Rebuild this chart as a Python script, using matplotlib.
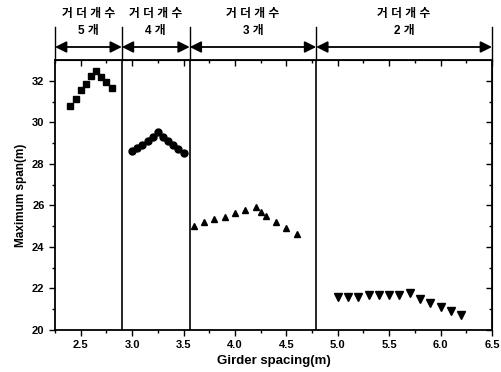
import matplotlib.pyplot as plt
import matplotlib.transforms as mtransforms

  # data
x5 = [2.40, 2.45, 2.50, 2.55, 2.60, 2.65, 2.70, 2.75, 2.80]
y5 = [30.8, 31.1, 31.55, 31.85, 32.25, 32.45, 32.2, 31.95, 31.65]

x4 = [3.00, 3.05, 3.10, 3.15, 3.20, 3.25, 3.30, 3.35, 3.40, 3.45, 3.50]
y4 = [28.6, 28.75, 28.9, 29.1, 29.3, 29.55, 29.3, 29.1, 28.9, 28.7, 28.5]

x3 = [3.60, 3.70, 3.80, 3.90, 4.00, 4.10, 4.20, 4.25, 4.30, 4.40, 4.50, 4.60]
y3 = [25.0, 25.2, 25.35, 25.45, 25.65, 25.8, 25.9, 25.7, 25.5, 25.2, 24.9, 24.6]

x2 = [5.0, 5.1, 5.2, 5.3, 5.4, 5.5, 5.6, 5.7, 5.8, 5.9, 6.0, 6.1, 6.2]
y2 = [21.6, 21.6, 21.6, 21.7, 21.7, 21.7, 21.7, 21.8, 21.5, 21.3, 21.1, 20.9, 20.7]

  # girder count regions
bounds = [2.25, 2.9, 3.56, 4.79, 6.5]
counts = ['5 개', '4 개', '3 개', '2 개']
header = '거 더 개 수'

plt.rcParams['font.family'] = ['Liberation Sans', 'Noto Sans CJK KR']

fig = plt.figure(figsize=(5.02, 3.72), dpi=100)
ax = fig.add_axes([0.1096, 0.1129, 0.8705, 0.7258])

ax.plot(x5, y5, 's', color='black', ms=5, ls='none')
ax.plot(x4, y4, 'o', color='black', ms=5, ls='none')
ax.plot(x3, y3, '^', color='black', ms=5, ls='none')
ax.plot(x2, y2, 'v', color='black', ms=6, ls='none')

  # region separators
for b in bounds[1:-1]:
    ax.axvline(b, color='black', lw=1.2)

ax.set_xlim(2.25, 6.5)
ax.set_ylim(20, 33)
ax.set_xticks([2.5, 3.0, 3.5, 4.0, 4.5, 5.0, 5.5, 6.0, 6.5])
ax.set_xticks([2.25, 2.75, 3.25, 3.75, 4.25, 4.75, 5.25, 5.75, 6.25], minor=True)
ax.set_yticks([20, 22, 24, 26, 28, 30, 32])
ax.set_yticks([21, 23, 25, 27, 29, 31], minor=True)

ax.tick_params(axis='both', which='major', labelsize=8, width=1, length=4)
ax.tick_params(axis='both', which='minor', width=1, length=2)
ax.tick_params(axis='x', which='both', direction='out')
ax.tick_params(axis='y', which='both', direction='out')
  # top and right ticks point inward
ax2 = ax.secondary_xaxis('top')
ax2.set_xticks(ax.get_xticks())
ax2.set_xticks([2.25, 2.75, 3.25, 3.75, 4.25, 4.75, 5.25, 5.75, 6.25], minor=True)
ax2.tick_params(which='both', direction='in', labeltop=False, width=1)
ax2.tick_params(which='major', length=4)
ax2.tick_params(which='minor', length=2)
ax3 = ax.secondary_yaxis('right')
ax3.set_yticks([20, 22, 24, 26, 28, 30, 32])
ax3.set_yticks([21, 23, 25, 27, 29, 31], minor=True)
ax3.tick_params(which='both', direction='in', labelright=False, width=1)
ax3.tick_params(which='major', length=4)
ax3.tick_params(which='minor', length=2)

for lbl in ax.get_xticklabels() + ax.get_yticklabels():
    lbl.set_fontweight('bold')
for sp in ax.spines.values():
    sp.set_linewidth(1.3)

ax.set_xlabel('Girder spacing(m)', fontsize=9.5, fontweight='bold', labelpad=3)
ax.set_ylabel('Maximum span(m)', fontsize=8.5, fontweight='bold', labelpad=4)

  # header above the axes with arrows
trans = mtransforms.blended_transform_factory(ax.transData, fig.transFigure)
for b in bounds:
    ax.plot([b, b], [1 - 27 / 372, 1 - 60 / 372], color='black', lw=1,
            transform=trans, clip_on=False)
for i in range(len(counts)):
    lo, hi = bounds[i], bounds[i + 1]
    mid = (lo + hi) / 2
    ax.annotate('', xy=(lo, 1 - 47 / 372), xytext=(hi, 1 - 47 / 372),
                xycoords=trans, textcoords=trans,
                arrowprops=dict(arrowstyle='<|-|>', color='black', lw=1.3,
                                mutation_scale=17, shrinkA=0, shrinkB=0))
    ax.text(mid, 1 - 14 / 372, header, transform=trans, ha='center', va='center',
            fontsize=8.5, fontweight='bold')
    ax.text(mid, 1 - 31 / 372, counts[i], transform=trans, ha='center', va='center',
            fontsize=8.5, fontweight='bold')

fig.savefig('out.png', dpi=100)
